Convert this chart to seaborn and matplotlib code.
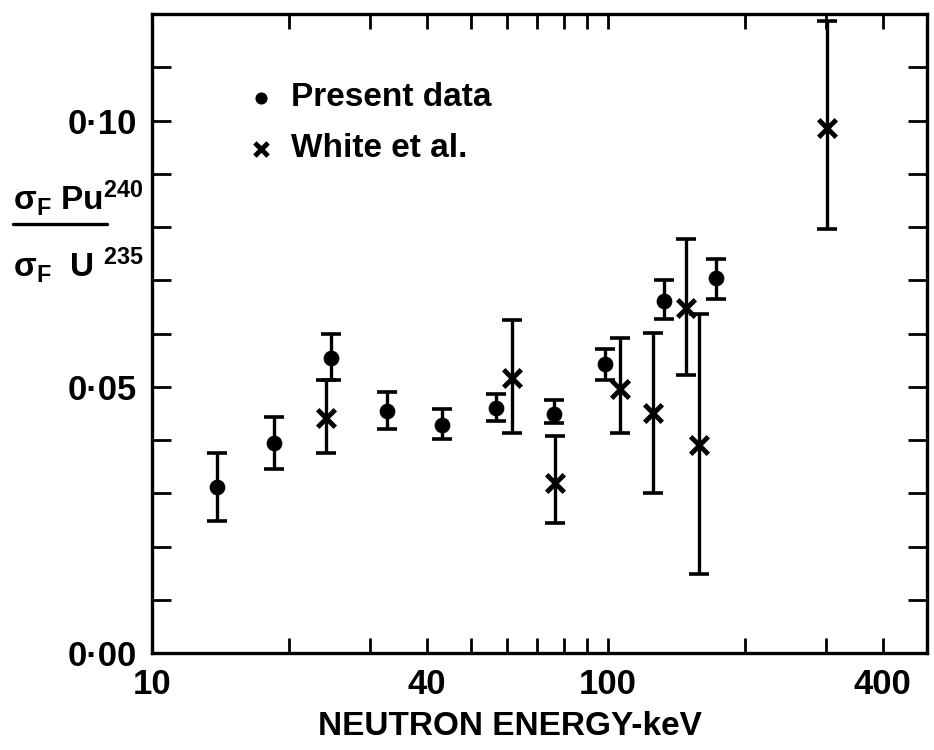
import numpy as np
import pandas as pd
import matplotlib
matplotlib.use('Agg')
import matplotlib.pyplot as plt
import matplotlib.ticker as mticker
from matplotlib.lines import Line2D
import seaborn as sns

# present data (dots)
present_e = [13.9, 18.5, 24.7, 32.7, 43.3, 56.8, 76.1, 98.5, 132.8, 172.5]
present_r = [0.0311, 0.0395, 0.0554, 0.0455, 0.0429, 0.0461, 0.0449, 0.0543, 0.0661, 0.0704]
present_lo = [0.0247, 0.0346, 0.0513, 0.0421, 0.0401, 0.0436, 0.0431, 0.0513, 0.0627, 0.0665]
present_hi = [0.0376, 0.0444, 0.0599, 0.0491, 0.0459, 0.0487, 0.0476, 0.0571, 0.0700, 0.0740]

# White et al. (crosses)
white_e = [24.1, 61.5, 76.6, 106.0, 125.6, 148.0, 158.4, 302.0]
white_r = [0.0442, 0.0517, 0.0320, 0.0496, 0.0451, 0.0647, 0.0390, 0.0985]
white_lo = [0.0375, 0.0414, 0.0245, 0.0414, 0.0301, 0.0522, 0.0148, 0.0796]
white_hi = [0.0513, 0.0625, 0.0408, 0.0592, 0.0601, 0.0778, 0.0637, 0.1187]

x_major = [10, 40, 100, 400]
x_minor = [20, 30, 50, 60, 70, 80, 90, 200, 300]
y_major = [0.0, 0.05, 0.10]
y_labels = ['0·00', '0·05', '0·10']

sns.set_style('ticks')
plt.rcParams['font.family'] = ['Liberation Sans', 'DejaVu Sans']
plt.rcParams['font.weight'] = 'bold'
plt.rcParams['mathtext.fontset'] = 'custom'
plt.rcParams['mathtext.rm'] = 'Liberation Sans:bold'
plt.rcParams['mathtext.bf'] = 'Liberation Sans:bold'
plt.rcParams['mathtext.it'] = 'Liberation Sans:bold'
plt.rcParams['mathtext.default'] = 'bf'
for k in ['text.color', 'axes.labelcolor', 'xtick.color', 'ytick.color', 'axes.edgecolor']:
    plt.rcParams[k] = 'black'

fig = plt.figure(figsize=(9.34, 7.5), dpi=100)
ax = fig.add_axes([152/934, 1-653/750, (927-152)/934, (653-14)/750])

df_p = pd.DataFrame({'E': present_e, 'R': present_r})
df_w = pd.DataFrame({'E': white_e, 'R': white_r})

ekw = dict(fmt='none', ecolor='black', elinewidth=2.4, capsize=7, capthick=2.6)
ax.errorbar(present_e, present_r,
            yerr=[np.array(present_r)-np.array(present_lo), np.array(present_hi)-np.array(present_r)], **ekw)
ax.errorbar(white_e, white_r,
            yerr=[np.array(white_r)-np.array(white_lo), np.array(white_hi)-np.array(white_r)], **ekw)

sns.scatterplot(data=df_p, x='E', y='R', marker='o', s=110, color='black', edgecolor='black',
                label='Present data', ax=ax, zorder=5)
sns.scatterplot(data=df_w, x='E', y='R', marker='x', s=160, color='black', linewidth=3.5,
                label='White et al.', ax=ax, zorder=5)

ax.set_xscale('log')
ax.set_xlim(10, 500)
ax.set_ylim(0, 0.12)
ax.xaxis.set_major_locator(mticker.FixedLocator(x_major))
ax.xaxis.set_major_formatter(mticker.FixedFormatter([str(v) for v in x_major]))
ax.xaxis.set_minor_locator(mticker.FixedLocator(x_minor))
ax.xaxis.set_minor_formatter(mticker.NullFormatter())
ax.yaxis.set_major_locator(mticker.FixedLocator(y_major))
ax.yaxis.set_major_formatter(mticker.FixedFormatter(y_labels))
ax.yaxis.set_minor_locator(mticker.MultipleLocator(0.01))

ax.tick_params(which='both', direction='in', top=True, right=True, width=2, length=11,
               labelsize=25, pad=11, color='black', labelcolor='black')
ax.tick_params(axis='y', which='both', length=14)
for sp in ax.spines.values():
    sp.set_linewidth(2.4)
    sp.set_color('black')

ax.set_xlabel('NEUTRON ENERGY-keV', fontsize=24, fontweight='bold')
ax.xaxis.set_label_coords((510-152)/775, -0.09)
ax.set_ylabel('')

leg = ax.legend(loc='upper left', bbox_to_anchor=(0.085, 0.94), frameon=False, fontsize=24,
                handletextpad=0.5, labelspacing=0.6, handlelength=0.8, markerscale=0.75)

# y label as a fraction
fig.text(13/934, 1-210/750, r'$\sigma_F$ Pu$^{240}$', fontsize=24, ha='left', va='baseline')
fig.text(13/934, 1-277/750, r'$\sigma_F$  U $^{235}$', fontsize=24, ha='left', va='baseline')
fig.add_artist(Line2D([13/934, 107/934], [1-224/750, 1-224/750], lw=2.4, color='black'))

fig.savefig('out.png', dpi=100)
